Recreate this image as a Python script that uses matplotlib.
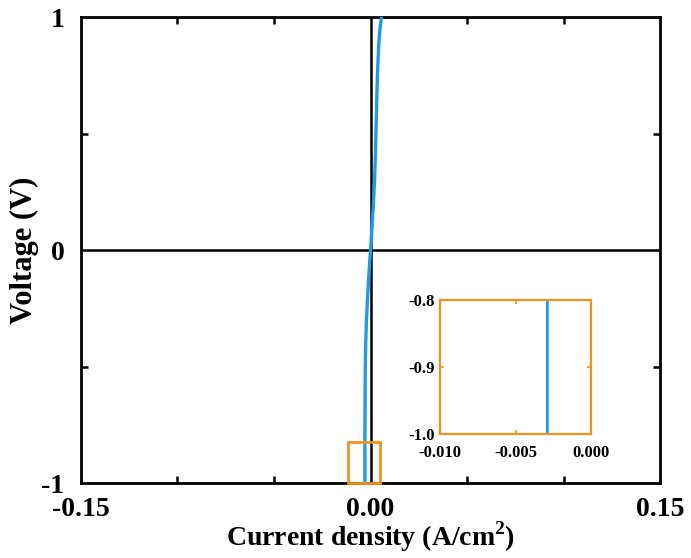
import matplotlib.pyplot as plt
import numpy as np
from matplotlib.patches import Rectangle

# voltage (V) and current density (A/cm2)
napiecie = [-1.0, -0.8, -0.6, -0.5, -0.4, -0.3, -0.2, -0.1, 0.0, 0.1, 0.2, 0.3, 0.4, 0.5,
            0.6, 0.7, 0.8, 0.9, 0.95, 1.0]
prad = [-0.0029, -0.0029, -0.0028, -0.0027, -0.0025, -0.0021, -0.0015, -0.0008, 0.0, 0.0008,
        0.0015, 0.0021, 0.0025, 0.0028, 0.0031, 0.0034, 0.0038, 0.0044, 0.0049, 0.0057]

x_ticki = [-0.15, 0.00, 0.15]
x_etykiety = ["-0.15", "0.00", "0.15"]
y_ticki = [-1, 0, 1]
y_etykiety = ["-1", "0", "1"]

ins_x_ticki = [-0.010, -0.005, 0.000]
ins_x_etykiety = ["-0.010", "-0.005", "0.000"]
ins_y_ticki = [-1.0, -0.9, -0.8]
ins_y_etykiety = ["-1.0", "-0.9", "-0.8"]

niebieski = "#1f9be6"
pomaranczowy = "#f0901e"

plt.rcParams['font.family'] = ['Liberation Serif', 'DejaVu Serif']
plt.rcParams['font.weight'] = 'bold'
plt.rcParams['mathtext.fontset'] = 'custom'
plt.rcParams['mathtext.bf'] = 'Liberation Serif:bold'

fig = plt.figure(figsize=(6.91, 5.58), dpi=100)
ax = fig.add_axes([0.1172, 0.1344, 0.838, 0.835])

ax.axhline(0, color="black", lw=1.8, zorder=1)
ax.axvline(0, color="black", lw=1.8, zorder=1)
ax.plot(prad, napiecie, color=niebieski, lw=2.4, zorder=3)

# pomaranczowa ramka powiekszonego obszaru
ax.add_patch(Rectangle((-0.0115, -1.0), 0.0165, 0.177, fill=False,
                       edgecolor=pomaranczowy, lw=2.0, zorder=4, clip_on=False))

ax.set_xlim(-0.15, 0.15)
ax.set_ylim(-1, 1)
ax.set_xticks(x_ticki)
ax.set_xticklabels(x_etykiety)
ax.set_yticks(y_ticki)
ax.set_yticklabels(y_etykiety)
ax.set_xticks(np.arange(-0.15, 0.151, 0.05), minor=True)
ax.set_yticks([-0.5, 0.5], minor=True)
ax.tick_params(which="both", direction="in", top=True, right=True, width=1.8)
ax.tick_params(which="major", length=0, labelsize=20)
ax.tick_params(axis="x", which="major", pad=10)
ax.tick_params(axis="y", which="major", pad=12)
ax.tick_params(which="minor", length=5)
for s in ax.spines.values():
    s.set_linewidth(2.0)

ax.set_xlabel("Current density (A/cm$^\\mathbf{2}$)", fontsize=20, fontweight="bold")
ax.set_ylabel("Voltage (V)", fontsize=22, fontweight="bold")
ax.xaxis.set_label_coords(0.5, -0.079)
ax.yaxis.set_label_coords(-0.072, 0.5)

# wstawka
ins = fig.add_axes([0.637, 0.2222, 0.2185, 0.240])
ins.plot(prad, napiecie, color=niebieski, lw=2.0)
ins.set_xlim(-0.010, 0.000)
ins.set_ylim(-1.0, -0.8)
ins.set_xticks(ins_x_ticki)
ins.set_xticklabels(ins_x_etykiety)
ins.set_yticks(ins_y_ticki)
ins.set_yticklabels(ins_y_etykiety)
ins.tick_params(direction="in", top=True, right=True, length=3, width=1.2,
                color=pomaranczowy, labelsize=12)
ins.tick_params(axis="x", pad=8)
ins.tick_params(axis="y", pad=4)
for s in ins.spines.values():
    s.set_color(pomaranczowy)
    s.set_linewidth(1.6)

fig.savefig("out.png", dpi=100)
